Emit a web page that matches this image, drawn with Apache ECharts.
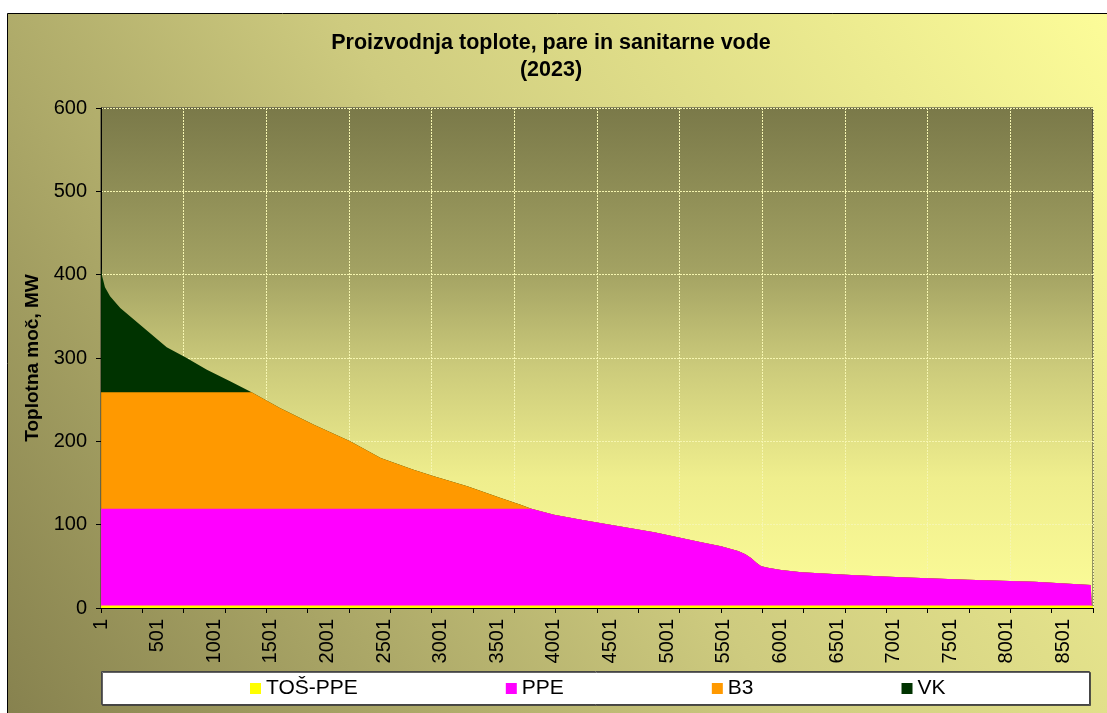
<!DOCTYPE html>
<html>
<head>
<meta charset="utf-8">
<script src="https://cdn.jsdelivr.net/npm/echarts@6/dist/echarts.min.js"></script>
<style>
html,body{margin:0;padding:0;background:#ffffff;}
#chart{width:1107px;height:713px;}
</style>
</head>
<body>
<div id="chart"></div>
<script>
// Hours of the year (sorted load-duration curve)
const hours = [1, 10, 20, 35, 80, 170, 345, 580, 745, 935, 1140, 1330, 1580, 1880, 2200, 2470, 2760, 2940, 3235, 3530, 3706, 3800, 4000, 4240, 4445, 4885, 5300, 5475, 5625, 5690, 5740, 5790, 5830, 5900, 6005, 6185, 6625, 7065, 7655, 8245, 8740, 8748, 8760];

// Component values (MW) at those hours
const tosPpe = [3, 3, 3, 3, 3, 3, 3, 3, 3, 3, 3, 3, 3, 3, 3, 3, 3, 3, 3, 3, 3, 3, 3, 3, 3, 3, 3, 3, 3, 3, 3, 3, 3, 3, 3, 3, 3, 3, 3, 3, 3, 2.5, 2.5];
const ppe    = [116, 116, 116, 116, 116, 116, 116, 116, 116, 116, 116, 116, 116, 116, 116, 116, 116, 116, 116, 116, 116, 116, 109, 103, 98, 88, 76, 71, 65.5, 61.5, 57, 51, 47, 45, 42.5, 40, 36.5, 34, 31, 28.5, 24.5, 1.5, 0.5];
const b3     = [140, 140, 140, 140, 140, 140, 140, 140, 140, 140, 140, 140, 121, 101, 81, 61, 47, 39, 27, 13, 5, 0, 0, 0, 0, 0, 0, 0, 0, 0, 0, 0, 0, 0, 0, 0, 0, 0, 0, 0, 0, 0, 0];
const vk     = [149, 139, 134, 126, 115, 101, 81, 54, 42, 27, 13, 0, 0, 0, 0, 0, 0, 0, 0, 0, 0, 0, 0, 0, 0, 0, 0, 0, 0, 0, 0, 0, 0, 0, 0, 0, 0, 0, 0, 0, 0, 0, 0];

const seriesNames = ['TOŠ-PPE', 'PPE', 'B3', 'VK'];
const seriesColors = ['#ffff00', '#ff00ff', '#ff9900', '#003300'];
const titleText = 'Proizvodnja toplote, pare in sanitarne vode\n(2023)';
const yAxisName = 'Toplotna moč, MW';

const FONT = '"Liberation Sans", Arial, sans-serif';

// Build stacked tops (cumulative) for drawing
const layers = [tosPpe, ppe, b3, vk];
let running = hours.map(() => 0);
const cumulative = layers.map(arr => {
  running = running.map((s, i) => s + arr[i]);
  return running.slice();
});

const gridLine = { show: true, lineStyle: { color: '#f6f6b0', width: 1, type: [2, 1] } };

const chart = echarts.init(document.getElementById('chart'), null, { renderer: 'canvas' });
chart.setOption({
  animation: false,
  backgroundColor: '#ffffff',
  graphic: [
    {
      type: 'rect', z: -100, silent: true,
      shape: { x: 7.5, y: 13.5, width: 1110, height: 710 },
      style: {
        fill: { type: 'linear', x: 0, y: 1, x2: 1, y2: 0,
          colorStops: [
            { offset: 0, color: '#86814e' },
            { offset: 0.5, color: '#cecb7f' },
            { offset: 1, color: '#fdfd99' }
          ] },
        stroke: '#000000', lineWidth: 1
      }
    },
    {
      type: 'rect', z: 3, silent: true,
      shape: { x: 101.5, y: 671.5, width: 988, height: 33 },
      style: { fill: '#ffffff', stroke: '#454545', lineWidth: 1,
        shadowColor: 'rgba(60,60,60,0.8)', shadowOffsetX: 1, shadowOffsetY: 1, shadowBlur: 0 }
    }
  ],
  title: {
    text: titleText,
    left: 551, textAlign: 'center', top: 30, padding: 0,
    textStyle: { fontFamily: FONT, fontSize: 21.5, fontWeight: 'bold', color: '#000', lineHeight: 27 }
  },
  legend: {
    data: seriesNames,
    left: 250, top: 678, padding: 0,
    icon: 'rect', itemWidth: 11, itemHeight: 11, itemGap: 148,
    textStyle: { fontFamily: FONT, fontSize: 21, color: '#000' }
  },
  grid: {
    left: 101, right: 14, top: 108, bottom: 105,
    show: true,
    borderColor: '#333333', borderWidth: 1,
    backgroundColor: { type: 'linear', x: 0, y: 0, x2: 0, y2: 1,
      colorStops: [
        { offset: 0, color: '#7a7949' },
        { offset: 0.32, color: '#a2a162' },
        { offset: 0.52, color: '#cccb7b' },
        { offset: 0.74, color: '#efee8d' },
        { offset: 1, color: '#fcfc98' }
      ] }
  },
  xAxis: [
    {
      type: 'value', min: 0, max: 8760, interval: 730, position: 'bottom',
      axisLine: { show: true, onZero: false, lineStyle: { color: '#000', width: 1 } },
      axisTick: { show: true, length: 5, lineStyle: { color: '#000' } },
      minorTick: { show: true, splitNumber: 2, length: 5, lineStyle: { color: '#000' } },
      axisLabel: { show: false },
      splitLine: gridLine
    },
    {
      type: 'value', min: 0, max: 8760, interval: 500, position: 'bottom', offset: 0,
      axisLine: { show: false }, axisTick: { show: false }, splitLine: { show: false },
      axisLabel: {
        show: true, rotate: 90, margin: 11, showMaxLabel: false,
        fontFamily: FONT, fontSize: 20, color: '#000',
        formatter: v => String(v + 1)
      }
    }
  ],
  yAxis: {
    type: 'value', min: 0, max: 600, interval: 100,
    name: yAxisName, nameLocation: 'middle', nameGap: 58, nameRotate: 90,
    nameTextStyle: { fontFamily: FONT, fontSize: 19, fontWeight: 'bold', color: '#000' },
    axisLine: { show: true, lineStyle: { color: '#000', width: 1 } },
    axisTick: { show: true, length: 5, lineStyle: { color: '#000' } },
    axisLabel: { fontFamily: FONT, fontSize: 20, color: '#000', margin: 14 },
    splitLine: gridLine
  },
  series: seriesNames.map((name, i) => ({
    name: name,
    type: 'line',
    xAxisIndex: 0,
    z: 10 - i,
    symbol: 'none',
    showSymbol: false,
    sampling: null,
    color: seriesColors[i],
    itemStyle: { color: seriesColors[i] },
    lineStyle: { width: 0, color: seriesColors[i] },
    areaStyle: { color: seriesColors[i], opacity: 1 },
    data: hours.map((h, j) => [h, cumulative[i][j]])
  }))
});
</script>
</body>
</html>
